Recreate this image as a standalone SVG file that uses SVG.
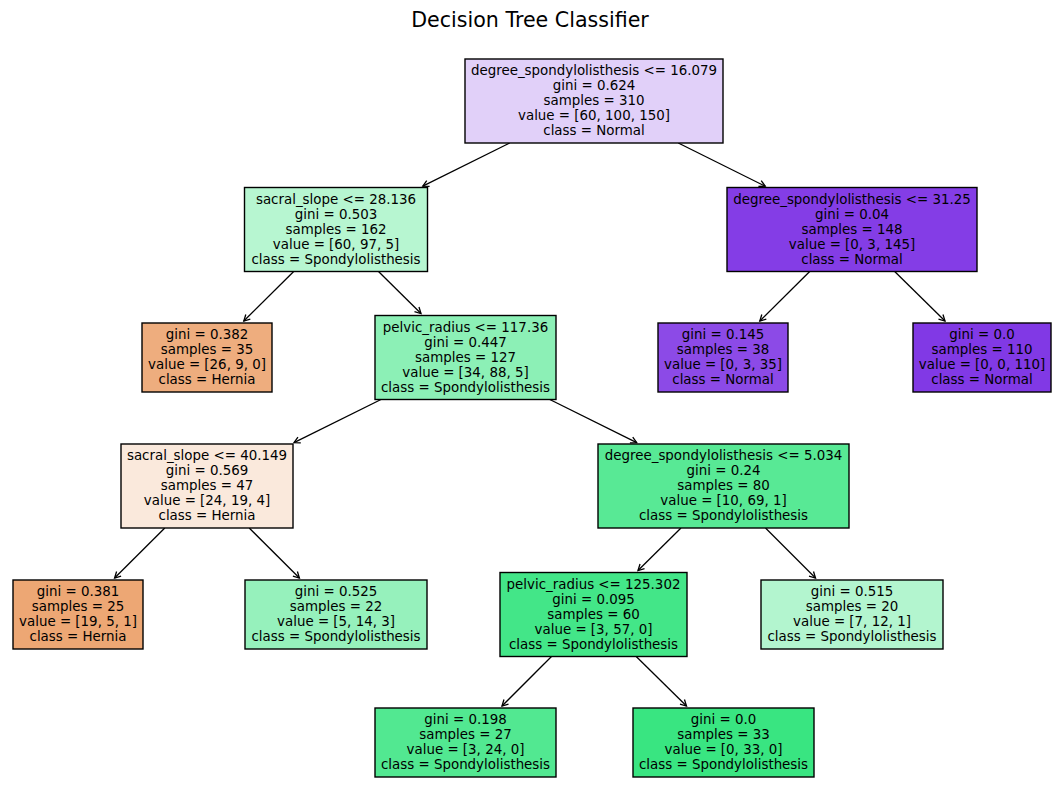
<svg xmlns="http://www.w3.org/2000/svg" width="1061" height="790" viewBox="0 0 1061 790">
<style>
.box{stroke:#000;stroke-width:1.4}
.t{font-family:"DejaVu Sans",sans-serif;font-size:13.4px;text-anchor:middle;fill:#000}
.title{font-family:"DejaVu Sans",sans-serif;font-size:20.6px;text-anchor:middle;fill:#000}
.edge{stroke:#000;stroke-width:1.3;fill:none}
</style>
<defs>
<marker id="ah" markerUnits="userSpaceOnUse" orient="auto" refX="0" refY="0" markerWidth="10" markerHeight="10" overflow="visible">
<path d="M-6,-3.2 L0,0 L-6,3.2" fill="none" stroke="#000" stroke-width="1.3"/>
</marker>
</defs>
<rect width="1061" height="790" fill="#fff"/>
<text class="title" x="530" y="27">Decision Tree Classifier</text>
<g id="connectors">
<line class="edge" x1="509.7" y1="143" x2="422.8" y2="186.2" marker-end="url(#ah)"/>
<line class="edge" x1="678.3" y1="143" x2="765.2" y2="186.2" marker-end="url(#ah)"/>
<line class="edge" x1="293.7" y1="271.5" x2="243.8" y2="321" marker-end="url(#ah)"/>
<line class="edge" x1="378.5" y1="271.5" x2="421" y2="313.5" marker-end="url(#ah)"/>
<line class="edge" x1="809.7" y1="271.5" x2="759.8" y2="321" marker-end="url(#ah)"/>
<line class="edge" x1="894.7" y1="271.5" x2="945" y2="321" marker-end="url(#ah)"/>
<line class="edge" x1="381" y1="399.5" x2="294" y2="442.7" marker-end="url(#ah)"/>
<line class="edge" x1="549.8" y1="399.5" x2="636.7" y2="442.7" marker-end="url(#ah)"/>
<line class="edge" x1="164.8" y1="528" x2="114.6" y2="578" marker-end="url(#ah)"/>
<line class="edge" x1="249.2" y1="528" x2="299.4" y2="578" marker-end="url(#ah)"/>
<line class="edge" x1="681" y1="528" x2="638" y2="570.5" marker-end="url(#ah)"/>
<line class="edge" x1="765.5" y1="528" x2="815.5" y2="578" marker-end="url(#ah)"/>
<line class="edge" x1="551.5" y1="656.5" x2="502" y2="706" marker-end="url(#ah)"/>
<line class="edge" x1="636.2" y1="656.5" x2="686.5" y2="706" marker-end="url(#ah)"/>
</g>
<g id="n0"><rect class="box" x="465" y="59" width="258" height="84" fill="#e1d0f9"/>
<text class="t" x="594" y="75"><tspan x="594">degree_spondylolisthesis &lt;= 16.079</tspan><tspan x="594" dy="15">gini = 0.624</tspan><tspan x="594" dy="15">samples = 310</tspan><tspan x="594" dy="15">value = [60, 100, 150]</tspan><tspan x="594" dy="15">class = Normal</tspan></text></g>
<g id="n1"><rect class="box" x="244.5" y="187.5" width="183" height="84" fill="#b7f6d1"/>
<text class="t" x="336" y="203.5"><tspan x="336">sacral_slope &lt;= 28.136</tspan><tspan x="336" dy="15">gini = 0.503</tspan><tspan x="336" dy="15">samples = 162</tspan><tspan x="336" dy="15">value = [60, 97, 5]</tspan><tspan x="336" dy="15">class = Spondylolisthesis</tspan></text></g>
<g id="n12"><rect class="box" x="727" y="187.5" width="250" height="84" fill="#843de6"/>
<text class="t" x="852" y="203.5"><tspan x="852">degree_spondylolisthesis &lt;= 31.25</tspan><tspan x="852" dy="15">gini = 0.04</tspan><tspan x="852" dy="15">samples = 148</tspan><tspan x="852" dy="15">value = [0, 3, 145]</tspan><tspan x="852" dy="15">class = Normal</tspan></text></g>
<g id="n2"><rect class="box" x="142" y="323" width="130" height="69" fill="#eead7e"/>
<text class="t" x="207" y="339"><tspan x="207">gini = 0.382</tspan><tspan x="207" dy="15">samples = 35</tspan><tspan x="207" dy="15">value = [26, 9, 0]</tspan><tspan x="207" dy="15">class = Hernia</tspan></text></g>
<g id="n3"><rect class="box" x="375" y="315.5" width="181" height="84" fill="#8cf0b6"/>
<text class="t" x="465.5" y="331.5"><tspan x="465.5">pelvic_radius &lt;= 117.36</tspan><tspan x="465.5" dy="15">gini = 0.447</tspan><tspan x="465.5" dy="15">samples = 127</tspan><tspan x="465.5" dy="15">value = [34, 88, 5]</tspan><tspan x="465.5" dy="15">class = Spondylolisthesis</tspan></text></g>
<g id="n13"><rect class="box" x="658" y="323" width="130" height="69" fill="#8c4ae7"/>
<text class="t" x="723" y="339"><tspan x="723">gini = 0.145</tspan><tspan x="723" dy="15">samples = 38</tspan><tspan x="723" dy="15">value = [0, 3, 35]</tspan><tspan x="723" dy="15">class = Normal</tspan></text></g>
<g id="n14"><rect class="box" x="913" y="323" width="138" height="69" fill="#8139e5"/>
<text class="t" x="982" y="339"><tspan x="982">gini = 0.0</tspan><tspan x="982" dy="15">samples = 110</tspan><tspan x="982" dy="15">value = [0, 0, 110]</tspan><tspan x="982" dy="15">class = Normal</tspan></text></g>
<g id="n4"><rect class="box" x="121" y="444" width="172" height="84" fill="#fae9dc"/>
<text class="t" x="207" y="460"><tspan x="207">sacral_slope &lt;= 40.149</tspan><tspan x="207" dy="15">gini = 0.569</tspan><tspan x="207" dy="15">samples = 47</tspan><tspan x="207" dy="15">value = [24, 19, 4]</tspan><tspan x="207" dy="15">class = Hernia</tspan></text></g>
<g id="n7"><rect class="box" x="598" y="444" width="251" height="84" fill="#58e995"/>
<text class="t" x="723.5" y="460"><tspan x="723.5">degree_spondylolisthesis &lt;= 5.034</tspan><tspan x="723.5" dy="15">gini = 0.24</tspan><tspan x="723.5" dy="15">samples = 80</tspan><tspan x="723.5" dy="15">value = [10, 69, 1]</tspan><tspan x="723.5" dy="15">class = Spondylolisthesis</tspan></text></g>
<g id="n5"><rect class="box" x="13" y="580" width="130" height="69" fill="#eda774"/>
<text class="t" x="78" y="596"><tspan x="78">gini = 0.381</tspan><tspan x="78" dy="15">samples = 25</tspan><tspan x="78" dy="15">value = [19, 5, 1]</tspan><tspan x="78" dy="15">class = Hernia</tspan></text></g>
<g id="n6"><rect class="box" x="245" y="580" width="182" height="69" fill="#96f1bc"/>
<text class="t" x="336" y="596"><tspan x="336">gini = 0.525</tspan><tspan x="336" dy="15">samples = 22</tspan><tspan x="336" dy="15">value = [5, 14, 3]</tspan><tspan x="336" dy="15">class = Spondylolisthesis</tspan></text></g>
<g id="n8"><rect class="box" x="500" y="572.5" width="187" height="84" fill="#43e688"/>
<text class="t" x="593.5" y="588.5"><tspan x="593.5">pelvic_radius &lt;= 125.302</tspan><tspan x="593.5" dy="15">gini = 0.095</tspan><tspan x="593.5" dy="15">samples = 60</tspan><tspan x="593.5" dy="15">value = [3, 57, 0]</tspan><tspan x="593.5" dy="15">class = Spondylolisthesis</tspan></text></g>
<g id="n11"><rect class="box" x="761" y="580" width="182" height="69" fill="#b3f5cf"/>
<text class="t" x="852" y="596"><tspan x="852">gini = 0.515</tspan><tspan x="852" dy="15">samples = 20</tspan><tspan x="852" dy="15">value = [7, 12, 1]</tspan><tspan x="852" dy="15">class = Spondylolisthesis</tspan></text></g>
<g id="n9"><rect class="box" x="375" y="708" width="181" height="69" fill="#52e891"/>
<text class="t" x="465.5" y="724"><tspan x="465.5">gini = 0.198</tspan><tspan x="465.5" dy="15">samples = 27</tspan><tspan x="465.5" dy="15">value = [3, 24, 0]</tspan><tspan x="465.5" dy="15">class = Spondylolisthesis</tspan></text></g>
<g id="n10"><rect class="box" x="633" y="708" width="181" height="69" fill="#39e581"/>
<text class="t" x="723.5" y="724"><tspan x="723.5">gini = 0.0</tspan><tspan x="723.5" dy="15">samples = 33</tspan><tspan x="723.5" dy="15">value = [0, 33, 0]</tspan><tspan x="723.5" dy="15">class = Spondylolisthesis</tspan></text></g>
</svg>
